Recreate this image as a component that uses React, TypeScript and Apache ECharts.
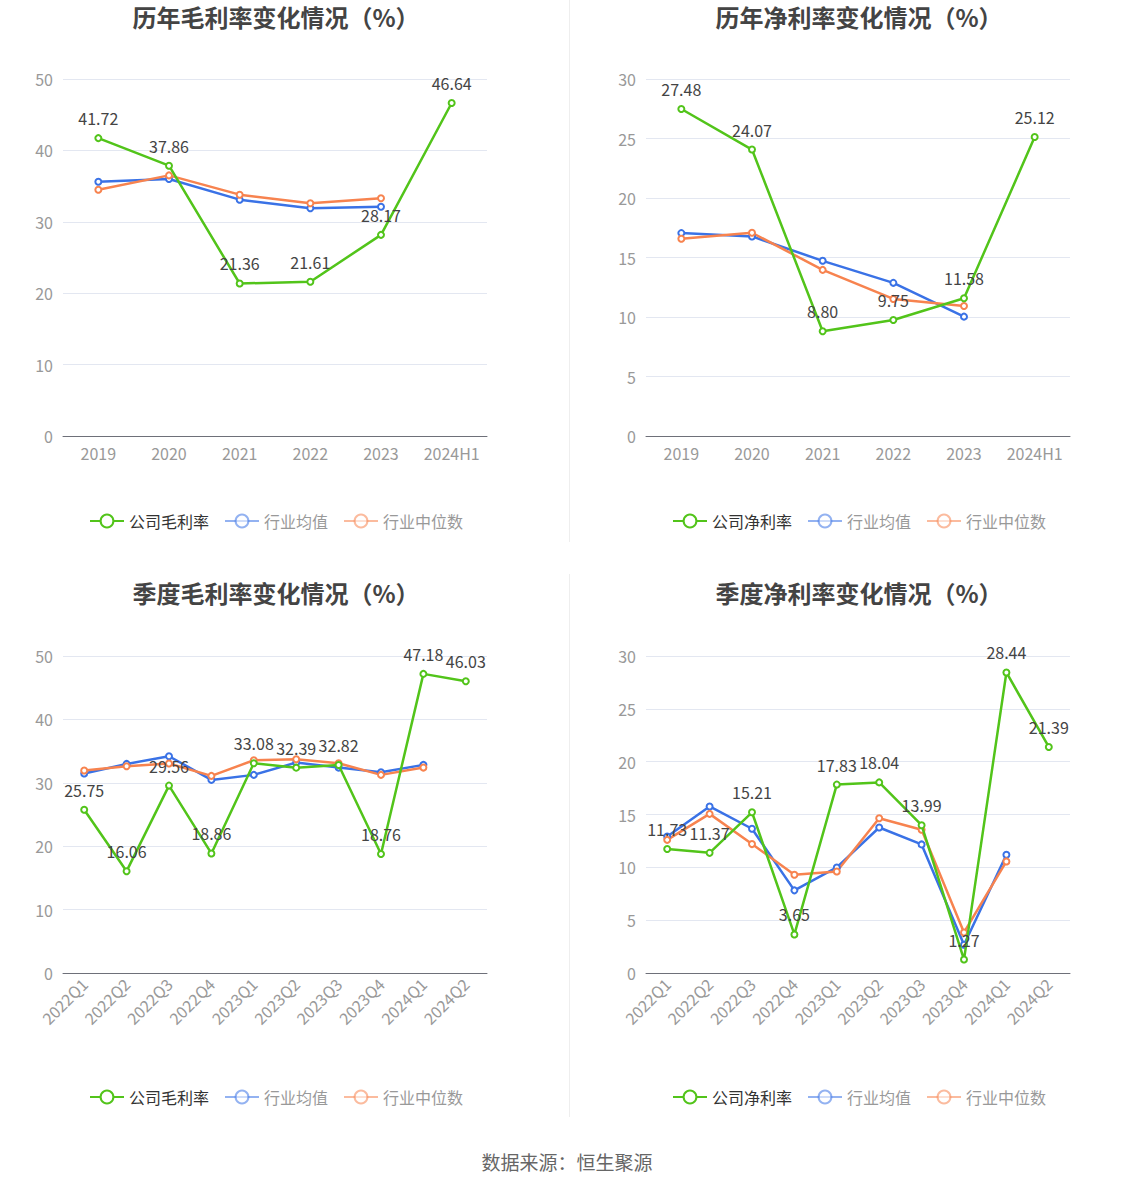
import React, { useEffect, useRef } from "react";
import * as echarts from "echarts";

const yearCats = ["2019", "2020", "2021", "2022", "2023", "2024H1"];
const quarterCats = ["2022Q1", "2022Q2", "2022Q3", "2022Q4", "2023Q1", "2023Q2", "2023Q3", "2023Q4", "2024Q1", "2024Q2"];

const yearGrossCompany = [41.72, 37.86, 21.36, 21.61, 28.17, 46.64];
const yearGrossAvg = [35.6, 36.0, 33.1, 31.9, 32.1, null];
const yearGrossMedian = [34.5, 36.5, 33.8, 32.6, 33.3, null];

const yearNetCompany = [27.48, 24.07, 8.8, 9.75, 11.58, 25.12];
const yearNetAvg = [17.05, 16.77, 14.72, 12.87, 10.03, null];
const yearNetMedian = [16.57, 17.08, 13.96, 11.52, 10.93, null];

const qGrossCompany = [25.75, 16.06, 29.56, 18.86, 33.08, 32.39, 32.82, 18.76, 47.18, 46.03];
const qGrossAvg = [31.46, 32.98, 34.19, 30.46, 31.25, 33.19, 32.4, 31.67, 32.83, null];
const qGrossMedian = [31.93, 32.62, 33.04, 31.09, 33.56, 33.72, 33.09, 31.25, 32.4, null];

const qNetCompany = [11.73, 11.37, 15.21, 3.65, 17.83, 18.04, 13.99, 1.27, 28.44, 21.39];
const qNetAvg = [12.92, 15.76, 13.65, 7.82, 9.99, 13.77, 12.17, 2.68, 11.19, null];
const qNetMedian = [12.6, 15.06, 12.2, 9.3, 9.61, 14.65, 13.55, 3.84, 10.56, null];

const titles = ["历年毛利率变化情况（%）", "历年净利率变化情况（%）", "季度毛利率变化情况（%）", "季度净利率变化情况（%）"];
const grossName = "公司毛利率";
const netName = "公司净利率";
const avgName = "行业均值";
const medName = "行业中位数";
const sourceText = "数据来源：恒生聚源";

const GREEN = "#52c41a";
const BLUE = "#3a72e6";
const ORANGE = "#f7834f";
const FONT = "'Noto Sans CJK SC', 'Noto Sans', sans-serif";

export default function App() {
  const ref = useRef<HTMLDivElement>(null);
  useEffect(() => {
    if (!ref.current) return;
    const chart = echarts.init(ref.current, null, { renderer: "svg" });

    const panels = [
      { left: 63, top: 79, cats: yearCats, max: 50, interval: 10, company: yearGrossCompany, avg: yearGrossAvg, med: yearGrossMedian, name: grossName, rotate: 0, tx: 276, ty: 16, lx: 84, ly: 508 },
      { left: 646, top: 79, cats: yearCats, max: 30, interval: 5, company: yearNetCompany, avg: yearNetAvg, med: yearNetMedian, name: netName, rotate: 0, tx: 859, ty: 16, lx: 667, ly: 508 },
      { left: 63, top: 656, cats: quarterCats, max: 50, interval: 10, company: qGrossCompany, avg: qGrossAvg, med: qGrossMedian, name: grossName, rotate: 45, tx: 276, ty: 592, lx: 84, ly: 1084 },
      { left: 646, top: 656, cats: quarterCats, max: 30, interval: 5, company: qNetCompany, avg: qNetAvg, med: qNetMedian, name: netName, rotate: 45, tx: 859, ty: 592, lx: 667, ly: 1084 },
    ];
    const gridH = [357, 357, 317, 317];

    const grids: any[] = [];
    const xAxes: any[] = [];
    const yAxes: any[] = [];
    const series: any[] = [];
    const legends: any[] = [];
    const graphics: any[] = [];

    panels.forEach((p, i) => {
      grids.push({ left: p.left, top: p.top, width: 424, height: gridH[i], containLabel: false });
      xAxes.push({
        type: "category",
        gridIndex: i,
        data: p.cats,
        boundaryGap: true,
        axisLine: { lineStyle: { color: "#6e7079", width: 1 } },
        axisTick: { alignWithLabel: true, length: 5, lineStyle: { color: "#6e7079" } },
        axisLabel: { color: "#999", fontSize: 16, fontFamily: FONT, rotate: p.rotate, margin: p.rotate ? 8 : 9, interval: 0 },
      });
      yAxes.push({
        type: "value",
        gridIndex: i,
        min: 0,
        max: p.max,
        interval: p.interval,
        axisLine: { show: false },
        axisTick: { show: false },
        axisLabel: { color: "#999", fontSize: 16, fontFamily: FONT, margin: 10 },
        splitLine: { lineStyle: { color: "#e3e7f1", width: 1 } },
      });
      const common = {
        type: "line",
        xAxisIndex: i,
        yAxisIndex: i,
        symbol: "emptyCircle",
        symbolSize: 6,
        lineStyle: { width: 2.5 },
        connectNulls: false,
      };
      series.push({
        ...common,
        name: p.name,
        data: p.company,
        color: GREEN,
        itemStyle: { color: GREEN },
        lineStyle: { width: 2.5, color: GREEN },
        z: 3,
        label: {
          show: true,
          position: "top",
          distance: 8,
          color: "#444",
          fontSize: 16,
          fontFamily: FONT,
          formatter: (d: any) => (d.value == null ? "" : Number(d.value).toFixed(2)),
        },
      });
      series.push({ ...common, name: avgName, data: p.avg, color: BLUE, itemStyle: { color: BLUE }, lineStyle: { width: 2.5, color: BLUE }, z: 2 });
      series.push({ ...common, name: medName, data: p.med, color: ORANGE, itemStyle: { color: ORANGE }, lineStyle: { width: 2.5, color: ORANGE }, z: 2 });

      legends.push({
        left: p.lx,
        top: p.ly,
        itemWidth: 34,
        itemHeight: 16,
        itemGap: 15,
        textStyle: { fontSize: 16, fontFamily: FONT, color: "#333" },
        data: [
          { name: p.name },
          { name: avgName, textStyle: { color: "#999" }, itemStyle: { opacity: 0.55 }, lineStyle: { opacity: 0.55 } },
          { name: medName, textStyle: { color: "#999" }, itemStyle: { opacity: 0.55 }, lineStyle: { opacity: 0.55 } },
        ],
      });

      graphics.push({
        type: "text",
        x: p.tx,
        y: p.ty,
        style: {
          text: titles[i],
          fill: "#444",
          font: `bold 24px ${FONT}`,
          textAlign: "center",
          textVerticalAlign: "middle",
        },
      });
    });

    graphics.push({ type: "line", shape: { x1: 569.5, y1: 0, x2: 569.5, y2: 542 }, style: { stroke: "#eeeeee", lineWidth: 1 } });
    graphics.push({ type: "line", shape: { x1: 569.5, y1: 574, x2: 569.5, y2: 1117 }, style: { stroke: "#eeeeee", lineWidth: 1 } });
    graphics.push({
      type: "text",
      x: 567,
      y: 1161,
      style: { text: sourceText, fill: "#666", font: `19px ${FONT}`, textAlign: "center", textVerticalAlign: "middle" },
    });

    chart.setOption({
      animation: false,
      backgroundColor: "#fff",
      grid: grids,
      xAxis: xAxes,
      yAxis: yAxes,
      legend: legends,
      series,
      graphic: graphics,
    });
    return () => chart.dispose();
  }, []);

  return <div ref={ref} style={{ position: "absolute", left: 0, top: 0, width: 1134, height: 1188 }} />;
}
